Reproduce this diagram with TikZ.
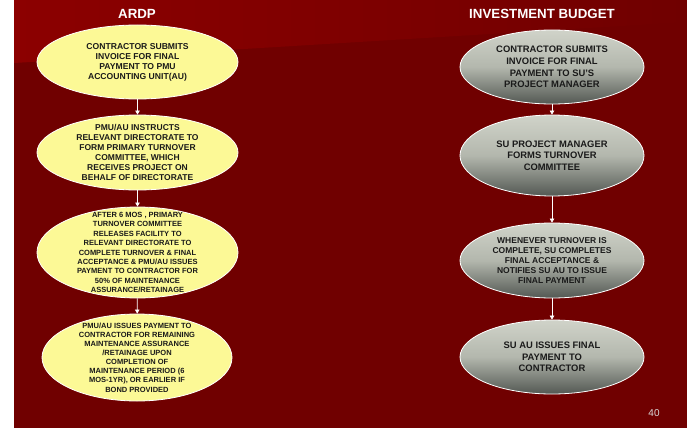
\documentclass[tikz,border=0pt]{standalone}
\usepackage{fontspec}
\setmainfont{Liberation Sans}
\usetikzlibrary{shapes.geometric,arrows.meta}
\definecolor{bgred}{HTML}{700000}
\definecolor{bgtop}{HTML}{8C0000}
\definecolor{yel}{HTML}{FCF996}
\definecolor{gtop}{HTML}{D0D3C9}
\definecolor{gmid}{HTML}{B3B7AD}
\definecolor{gbot}{HTML}{535853}
\definecolor{ink}{HTML}{1A1A1A}
\tikzset{
  yell/.style={ellipse, draw=white, line width=0.8pt, fill=yel, inner sep=0pt},
  grey/.style={ellipse, draw=white, line width=0.8pt, top color=gtop, bottom color=gbot, middle color=gmid, inner sep=0pt},
  txt/.style 2 args={align=center, text=ink, inner sep=0pt, font=\bfseries\fontsize{#1}{#2}\selectfont},
  title/.style={text=white, font=\bfseries\fontsize{13.3}{15}\selectfont},
  flow/.style={white, line width=0.6pt, -{Triangle[width=4.5pt,length=4pt]}},
}
\begin{document}
\begin{tikzpicture}[x=1pt,y=-1pt]
\useasboundingbox (0,0) rectangle (687,428);
\fill[white] (0,0) rectangle (687,428);
\fill[bgred] (14,0) rectangle (687,428);
\shade[left color=bgtop, right color=bgred] (14,0) -- (687,0) -- (687,22) -- (14,63) -- cycle;

\node[title] (t1) at (137,14) {ARDP};
\node[title] (t2) at (542,14) {INVESTMENT BUDGET};

% left column
\node[yell, minimum width=201pt, minimum height=74pt] (a1) at (137.5,62) {};
\node[yell, minimum width=201pt, minimum height=75pt] (a2) at (137.5,152.5) {};
\node[yell, minimum width=201pt, minimum height=91pt] (a3) at (137.5,252.5) {};
\node[yell, minimum width=190pt, minimum height=87pt] (a4) at (137,357.5) {};

\node[txt={8.6}{10}] at (a1.center) {CONTRACTOR SUBMITS\\INVOICE FOR FINAL\\PAYMENT TO PMU\\ACCOUNTING UNIT(AU)};
\node[txt={8.5}{10}] at (a2.center) {PMU/AU INSTRUCTS\\RELEVANT DIRECTORATE TO\\FORM PRIMARY TURNOVER\\COMMITTEE, WHICH\\RECEIVES PROJECT ON\\BEHALF OF DIRECTORATE};
\node[txt={7.5}{9.4}] at (a3.center) {AFTER 6 MOS , PRIMARY\\TURNOVER COMMITTEE\\RELEASES FACILITY TO\\RELEVANT DIRECTORATE TO\\COMPLETE TURNOVER \& FINAL\\ACCEPTANCE \& PMU/AU ISSUES\\PAYMENT TO CONTRACTOR FOR\\50\% OF MAINTENANCE\\ASSURANCE/RETAINAGE};
\node[txt={7.5}{9.1}] at (a4.center) {PMU/AU ISSUES PAYMENT TO\\CONTRACTOR FOR REMAINING\\MAINTENANCE ASSURANCE\\/RETAINAGE UPON\\COMPLETION OF\\MAINTENANCE PERIOD (6\\MOS-1YR), OR EARLIER IF\\BOND PROVIDED};

% right column
\node[grey, minimum width=184pt, minimum height=74pt] (b1) at (552,67) {};
\node[grey, minimum width=184pt, minimum height=81pt] (b2) at (552,155.5) {};
\node[grey, minimum width=184pt, minimum height=75pt] (b3) at (552,260.5) {};
\node[grey, minimum width=184pt, minimum height=74pt] (b4) at (552,357) {};

\node[txt={9.4}{11.7}] at (b1.center) {CONTRACTOR SUBMITS\\INVOICE FOR FINAL\\PAYMENT TO SU'S\\PROJECT MANAGER};
\node[txt={9.4}{11.3}] at (b2.center) {SU PROJECT MANAGER\\FORMS TURNOVER\\COMMITTEE};
\node[txt={8.5}{10}] at (b3.center) {WHENEVER TURNOVER IS\\COMPLETE, SU COMPLETES\\FINAL ACCEPTANCE \&\\NOTIFIES SU AU TO ISSUE\\FINAL PAYMENT};
\node[txt={9.4}{11.3}] at (b4.center) {SU AU ISSUES FINAL\\PAYMENT TO\\CONTRACTOR};

\draw[flow] (a1) -- (a2);
\draw[flow] (a2) -- (a3);
\draw[flow] (a3) -- (a4);
\draw[flow] (b1) -- (b2);
\draw[flow] (b2) -- (b3);
\draw[flow] (b3) -- (b4);

\node[text=white!85!black, font=\fontsize{10}{12}\selectfont] (pg) at (654,413) {40};
\end{tikzpicture}
\end{document}
